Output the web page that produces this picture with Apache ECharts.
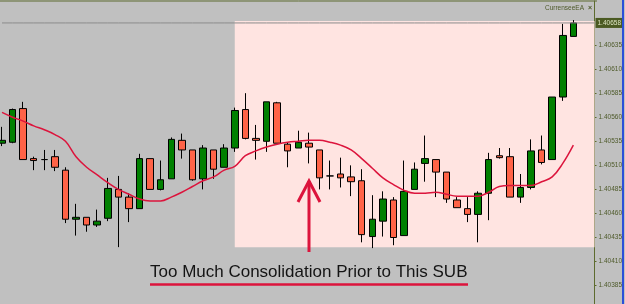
<!DOCTYPE html>
<html>
<head>
<meta charset="utf-8">
<script src="https://cdn.jsdelivr.net/npm/echarts@6.0.0/dist/echarts.min.js"></script>
<style>
  html, body { margin: 0; padding: 0; background: #c0c0c0; }
  #chart { width: 625px; height: 304px; }
</style>
</head>
<body>
<div id="chart"></div>
<script>
// bar numbers (two empty slots on the right = chart shift)
var bars = []
for (var b = 1; b <= 57; b++) bars.push(String(b))

var opens = [1.40533, 1.40534, 1.40569, 1.40517, 1.40516, 1.40519, 1.40505, 1.40454, 1.40456, 1.40448,
  1.40455, 1.40485, 1.40477, 1.40465, 1.40517, 1.40485, 1.40496, 1.40536, 1.40526, 1.40496,
  1.40526, 1.40508, 1.40528, 1.40568, 1.40538, 1.40535, 1.40575, 1.40532, 1.40528, 1.40533,
  1.40526, 1.40499, 1.40501, 1.40498, 1.40494, 1.40436, 1.40452, 1.40474, 1.40437, 1.40485,
  1.40512, 1.40516, 1.40503, 1.40474, 1.40465, 1.40459, 1.40481, 1.40520, 1.40519, 1.40477,
  1.40487, 1.40526, 1.40516, 1.40581, 1.40644]
var closes = [1.40536, 1.40568, 1.40516, 1.40515, 1.40516, 1.40508, 1.40454, 1.40456, 1.40448, 1.40452,
  1.40486, 1.40477, 1.40465, 1.40517, 1.40485, 1.40495, 1.40537, 1.40526, 1.40495, 1.40528,
  1.40506, 1.40528, 1.40567, 1.40538, 1.40536, 1.40576, 1.40533, 1.40525, 1.40534, 1.40529,
  1.40497, 1.40499, 1.40497, 1.40493, 1.40438, 1.40454, 1.40475, 1.40435, 1.40483, 1.40506,
  1.40517, 1.40503, 1.40475, 1.40466, 1.40459, 1.40481, 1.40516, 1.40518, 1.40477, 1.40487,
  1.40525, 1.40513, 1.40581, 1.40645, 1.40658]
var lows = [1.40530, 1.40533, 1.40516, 1.40505, 1.40505, 1.40504, 1.40450, 1.40437, 1.40441, 1.40446,
  1.40452, 1.40425, 1.40451, 1.40465, 1.40485, 1.40484, 1.40496, 1.40517, 1.40494, 1.40485,
  1.40496, 1.40508, 1.40524, 1.40537, 1.40516, 1.40524, 1.40533, 1.40508, 1.40528, 1.40512,
  1.40485, 1.40485, 1.40487, 1.40478, 1.40430, 1.40424, 1.40436, 1.40427, 1.40437, 1.40485,
  1.40493, 1.40477, 1.40471, 1.40466, 1.40451, 1.40430, 1.40453, 1.40517, 1.40477, 1.40471,
  1.40485, 1.40511, 1.40516, 1.40577, 1.40644]
var highs = [1.40550, 1.40569, 1.40576, 1.40519, 1.40526, 1.40526, 1.40508, 1.40470, 1.40456, 1.40464,
  1.40497, 1.40499, 1.40481, 1.40522, 1.40517, 1.40515, 1.40539, 1.40543, 1.40526, 1.40531,
  1.40526, 1.40532, 1.40570, 1.40585, 1.40552, 1.40576, 1.40576, 1.40534, 1.40546, 1.40544,
  1.40526, 1.40515, 1.40518, 1.40510, 1.40506, 1.40479, 1.40483, 1.40477, 1.40515, 1.40513,
  1.40541, 1.40516, 1.40503, 1.40477, 1.40477, 1.40483, 1.40523, 1.40528, 1.40528, 1.40501,
  1.40537, 1.40541, 1.40581, 1.40657, 1.40661]
// moving average line
var maValues = [1.40565, 1.40560, 1.40556, 1.40551, 1.40547, 1.40542, 1.40535, 1.40519, 1.40508, 1.40500,
  1.40492, 1.40485, 1.40480, 1.40475, 1.40473, 1.40473, 1.40477, 1.40482, 1.40488, 1.40494,
  1.40498, 1.40505, 1.40509, 1.40520, 1.40525, 1.40529, 1.40532, 1.40534, 1.40535, 1.40536,
  1.40536, 1.40534, 1.40531, 1.40526, 1.40517, 1.40507, 1.40497, 1.40490, 1.40484, 1.40481,
  1.40481, 1.40482, 1.40480, 1.40478, 1.40478, 1.40478, 1.40482, 1.40488, 1.40489, 1.40489,
  1.40489, 1.40493, 1.40498, 1.40512, 1.40531]
var priceTicks = [1.40385, 1.40410, 1.40435, 1.40460, 1.40485, 1.40510, 1.40535, 1.40560, 1.40585, 1.40610, 1.40635]
var bidPrice = 1.40658
// shaded zone: from bar 23 to the right edge
var zoneStart = 22
var zoneEnd = 56
var zoneTop = 1.40660
var zoneBottom = 1.40425
var noteText = 'Too Much Consolidation Prior to This SUB'

var candles = []
var ma = []
var bid = []
for (var i = 0; i < bars.length; i++) {
  bid.push(bidPrice)
  if (i < opens.length) {
    candles.push([opens[i], closes[i], lows[i], highs[i]])
    ma.push(maValues[i])
  } else {
    candles.push('-')
    ma.push('-')
  }
}

var chart = echarts.init(document.getElementById('chart'), null, { renderer: 'canvas' })

var option = {
  animation: false,
  backgroundColor: '#c0c0c0',
  grid: { left: 2, right: 28, top: 1, bottom: 0 },
  xAxis: {
    type: 'category',
    data: bars,
    boundaryGap: false,
    axisLine: { show: false },
    axisTick: { show: false },
    axisLabel: { show: false },
    splitLine: { show: false }
  },
  yAxis: {
    type: 'value',
    position: 'right',
    min: 1.403659,
    max: 1.406808,
    axisLine: { show: true, lineStyle: { color: '#5d6b2e', width: 1 } },
    axisTick: { show: true, inside: false, length: 2, customValues: priceTicks, lineStyle: { color: '#5d6b2e' } },
    axisLabel: {
      customValues: priceTicks,
      margin: 4,
      color: '#4e5a2a',
      fontSize: 6.5,
      fontFamily: 'Liberation Sans',
      formatter: function (v) { return v.toFixed(5) }
    },
    splitLine: { show: false }
  },
  series: [
    {
      // just holds the pink zone behind everything
      type: 'line',
      z: 1,
      data: [],
      markArea: {
        silent: true,
        itemStyle: { color: '#ffe4e1' },
        data: [[{ xAxis: zoneStart, yAxis: zoneTop }, { xAxis: zoneEnd, yAxis: zoneBottom }]]
      }
    },
    {
      type: 'candlestick',
      z: 3,
      clip: false,
      data: candles,
      barWidth: 7,
      itemStyle: {
        color: '#008000',
        color0: '#ff6347',
        borderColor: '#000000',
        borderColor0: '#000000',
        borderColorDoji: '#000000',
        borderWidth: 1
      }
    },
    {
      type: 'line',
      z: 4,
      data: ma,
      smooth: 0.4,
      showSymbol: false,
      lineStyle: { color: '#dc143c', width: 1.5 }
    },
    {
      // bid line with its price box
      type: 'line',
      z: 6,
      data: bid,
      silent: true,
      clip: false,
      showSymbol: false,
      lineStyle: { color: '#8c8c8c', width: 1 },
      endLabel: {
        show: true,
        distance: 1,
        color: '#dfe6c4',
        backgroundColor: '#4b5a22',
        padding: [2, 2, 1, 2],
        fontSize: 6.5,
        fontFamily: 'Liberation Sans',
        formatter: bidPrice.toFixed(5)
      }
    }
  ],
  graphic: [
    { type: 'line', z: 10, silent: true, shape: { x1: 0, y1: 1, x2: 597, y2: 1 }, style: { stroke: '#5d6b2e', lineWidth: 1 } },
    { type: 'rect', z: 10, silent: true, shape: { x: 622, y: 0, width: 2, height: 304 }, style: { fill: '#2c4fd8' } },
    { type: 'text', z: 10, silent: true, x: 584, y: 8, style: { text: 'CurrenseeEA', fontSize: 6.5, fontFamily: 'Liberation Sans', fill: '#4e5a2a', align: 'right', verticalAlign: 'middle' } },
    { type: 'text', z: 10, silent: true, x: 588, y: 8, style: { text: '×', fontSize: 7, fontWeight: 'bold', fontFamily: 'Liberation Sans', fill: '#4e5a2a', verticalAlign: 'middle' } },
    // arrow
    { type: 'polyline', z: 10, silent: true, shape: { points: [[309, 252], [309, 181]] }, style: { stroke: '#dc143c', lineWidth: 3 } },
    { type: 'polyline', z: 10, silent: true, shape: { points: [[298, 202], [309, 181], [320, 202]] }, style: { stroke: '#dc143c', lineWidth: 3, fill: null } },
    // note + underline
    { type: 'text', z: 10, silent: true, x: 150, y: 272, style: { text: noteText, fontSize: 17, fontFamily: 'Liberation Sans', fill: '#141414', verticalAlign: 'middle' } },
    { type: 'line', z: 10, silent: true, shape: { x1: 150, y1: 284.5, x2: 468, y2: 284.5 }, style: { stroke: '#dc143c', lineWidth: 2.5 } }
  ]
}

chart.setOption(option)
</script>
</body>
</html>
